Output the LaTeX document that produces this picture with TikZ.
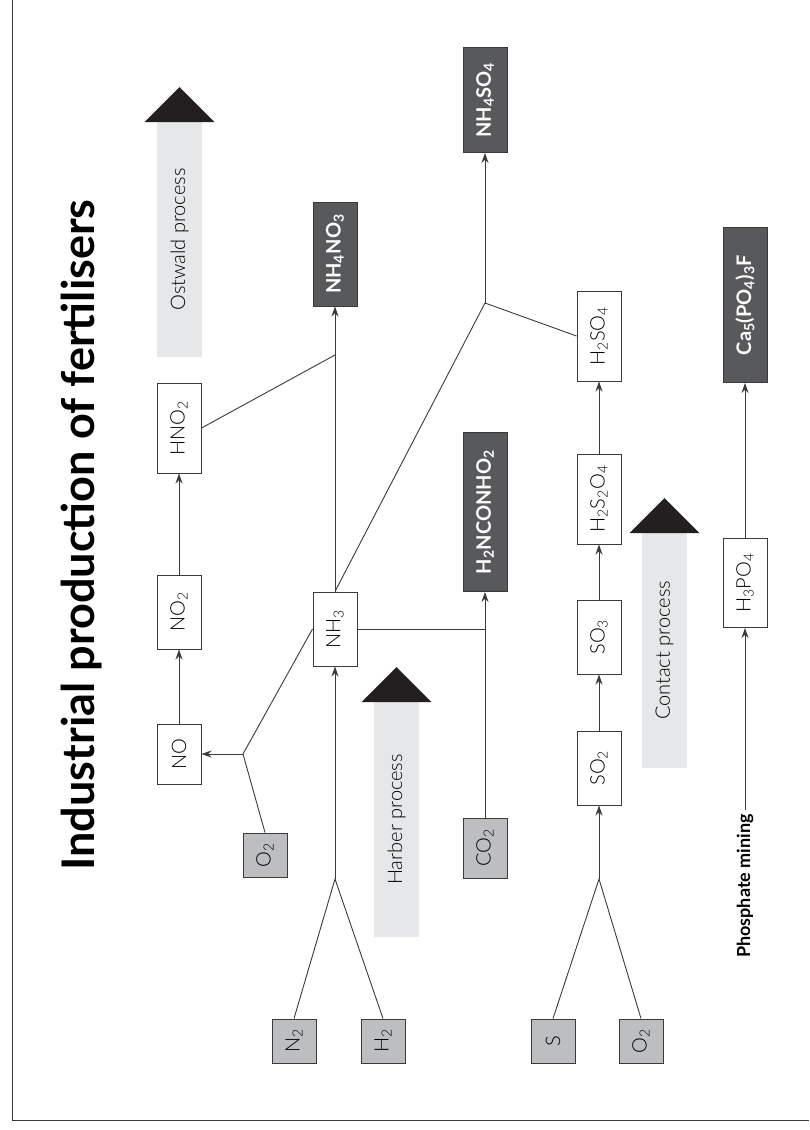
\documentclass[tikz,border=0pt]{standalone}
\usepackage{fontspec}
\setmainfont{Lato Light}[BoldFont=Lato Bold]
\newfontfamily\headfont{Lato Bold}
\usetikzlibrary{arrows.meta}

\definecolor{boxline}{HTML}{3A3A3B}
\definecolor{rawfill}{HTML}{BCBEC0}
\definecolor{endfill}{HTML}{58595B}
\definecolor{bandfill}{HTML}{E6E7E8}
\definecolor{headfill}{HTML}{231F20}

\newcommand{\up}[1]{\rotatebox{90}{#1}}
\newcommand{\sub}[1]{\textsubscript{#1}}

\tikzset{
  chem/.style={draw=boxline, line width=1pt, fill=white, minimum width=44pt,
    inner sep=0pt, font=\fontsize{20}{20}\selectfont},
  raw/.style={chem, fill=rawfill, minimum height=44pt},
  prod/.style={chem, fill=endfill, text=white,
    font=\headfont\fontsize{20}{20}\selectfont},
  flow/.style={draw=boxline, line width=0.9pt},
  feed/.style={flow, -{Stealth[length=10pt,width=7pt]}},
}

\begin{document}
\begin{tikzpicture}[x=1pt,y=-1pt]
\useasboundingbox (0,0) rectangle (809,1130);
\draw[boxline, line width=1pt] (12,0) -- (12,1120) -- (809,1120);

\node[rotate=90, font=\headfont\fontsize{45}{45}\selectfont] (title) at (82,535)
  {Industrial production of fertilisers};

\foreach \cx/\top/\bot/\name in {179.5/122/357/Ostwald process,
    396.5/702/937/Harber process, 664.5/533/768/Contact process}{
  \fill[bandfill] (\cx-22.5,\top) rectangle (\cx+22.5,\bot);
  \fill[headfill] (\cx,\top-35) -- (\cx+35,\top) -- (\cx-35,\top) -- cycle;
  \node[rotate=90, font=\fontsize{20}{20}\selectfont] at (\cx,{(\top+\bot)/2}) {\name};
}

\path (179,754) node[chem, minimum height=60pt] (no) {\up{NO}}
      (179,612) node[chem, minimum height=74pt] (no2) {\up{NO\sub{2}}}
      (179,428) node[chem, minimum height=90pt] (hno2) {\up{HNO\sub{2}}}
      (265,855) node[raw] (o2a) {\up{O\sub{2}}}
      (335,629) node[chem, minimum height=74pt] (nh3) {\up{NH\sub{3}}}
      (335,254) node[prod, minimum height=104pt] (nh4no3) {\up{NH\sub{4}NO\sub{3}}}
      (485,848) node[raw, minimum height=60pt] (co2) {\up{CO\sub{2}}}
      (485,512) node[prod, minimum height=159pt] (urea) {\up{H\sub{2}NCONHO\sub{2}}}
      (485,100) node[prod, minimum height=105pt] (nh4so4) {\up{NH\sub{4}SO\sub{4}}}
      (294,1041) node[raw] (n2) {\up{N\sub{2}}}
      (383,1041) node[raw] (h2) {\up{H\sub{2}}}
      (553,1041) node[raw] (s) {\up{S}}
      (641,1041) node[raw] (o2b) {\up{O\sub{2}}}
      (599,768) node[chem, minimum height=74pt] (so2) {\up{SO\sub{2}}}
      (599,637) node[chem, minimum height=74pt] (so3) {\up{SO\sub{3}}}
      (599,499) node[chem, minimum height=90pt] (h2s2o4) {\up{H\sub{2}S\sub{2}O\sub{4}}}
      (599,336) node[chem, minimum height=90pt] (h2so4) {\up{H\sub{2}SO\sub{4}}}
      (745,583) node[chem, minimum height=89pt] (h3po4) {\up{H\sub{3}PO\sub{4}}}
      (745,305) node[prod, minimum height=155pt] (apatite) {\up{Ca\sub{5}(PO\sub{4})\sub{3}F}}
      (745,886) node[rotate=90, inner sep=4pt, font=\headfont\fontsize{18}{18}\selectfont] (mining) {Phosphate mining};

\coordinate (jno) at (243,754);
\coordinate (jnit) at (335,355);
\coordinate (jsul) at (485,303);
\coordinate (jurea) at (485,629);
\coordinate (jhab) at (335,879);
\coordinate (jcon) at (599,879);

\draw[flow] (n2.north) -- (jhab) -- (h2.north);
\draw[feed] (jhab) -- (nh3);
\draw[flow] (nh3.west) -- (jno) -- (o2a.north);
\draw[feed] (jno) -- (no);
\draw[feed] (no) -- (no2);
\draw[feed] (no2) -- (hno2);
\draw[flow] (hno2.east) -- (jnit);
\draw[feed] (nh3) -- (nh4no3);
\draw[flow] (nh3.east) -- (jurea);
\draw[feed] (co2) -- (urea);
\draw[flow] (nh3.north) -- (jsul) -- (h2so4.west);
\draw[feed] (jsul) -- (nh4so4);
\draw[flow] (s.north) -- (jcon) -- (o2b.north);
\draw[feed] (jcon) -- (so2);
\draw[feed] (so2) -- (so3);
\draw[feed] (so3) -- (h2s2o4);
\draw[feed] (h2s2o4) -- (h2so4);
\draw[feed] (mining) -- (h3po4);
\draw[feed] (h3po4) -- (apatite);
\end{tikzpicture}
\end{document}
